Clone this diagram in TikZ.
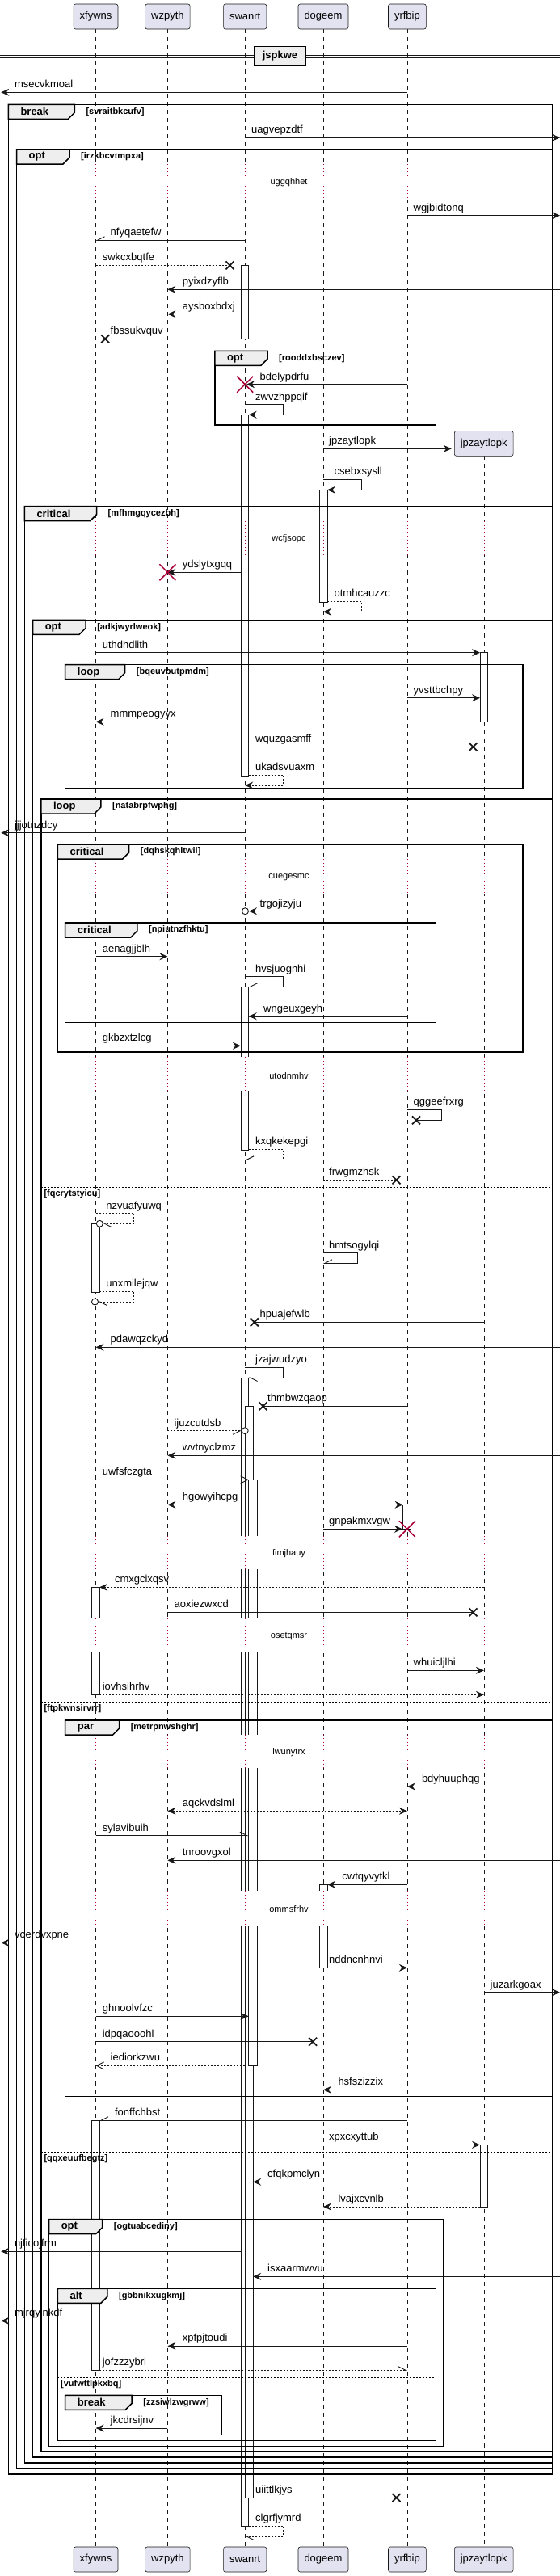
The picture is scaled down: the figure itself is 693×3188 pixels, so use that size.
\documentclass[tikz,border=0pt]{standalone}
\usepackage{fontspec}
\setmainfont{Liberation Sans}
\usetikzlibrary{arrows.meta}
\definecolor{ink}{HTML}{181818}
\definecolor{boxfill}{HTML}{E2E2F0}
\definecolor{killred}{HTML}{A80036}
\definecolor{tabfill}{HTML}{EEEEEE}

\tikzset{
  lifeline/.style={ink, line width=0.5pt, dash pattern=on 5pt off 5pt},
  part/.style={draw=ink, fill=boxfill, rounded corners=2.5pt, line width=0.6pt,
    minimum height=31pt, inner xsep=7.5pt, font=\fontsize{13}{15}\selectfont},
  plain/.style={draw=ink, line width=0.9pt},
  msg/.style={plain, -{Stealth[length=10pt,width=9pt,inset=3.5pt]}},
  bi/.style={plain, {Stealth[length=10pt,width=9pt,inset=3.5pt]}-{Stealth[length=10pt,width=9pt,inset=3.5pt]}},
  hl/.style={plain, -{Straight Barb[harpoon,length=9pt,width=9pt]}},
  hr/.style={plain, -{Straight Barb[harpoon,swap,length=9pt,width=9pt]}},
  opn/.style={plain, -{Straight Barb[length=9pt,width=9pt]}},
  dsh/.style={dash pattern=on 2pt off 2pt},
  lbl/.style={font=\fontsize{13}{15}\selectfont, anchor=base west, inner sep=0pt, yshift=5.5pt},
  actbar/.style={fill=white, draw=ink, line width=0.8pt},
  dly/.style={killred, line width=0.8pt, dash pattern=on 1pt off 3.5pt},
  dtext/.style={font=\fontsize{11}{13}\selectfont, inner sep=0pt},
  frm/.style={draw=black, line width=1.5pt},
  tab/.style={fill=tabfill, draw=black, line width=1.5pt},
  kw/.style={font=\bfseries\fontsize{13}{15}\selectfont, anchor=west, inner sep=0pt},
  grd/.style={font=\bfseries\fontsize{11}{13}\selectfont, anchor=west, inner sep=0pt},
  sep/.style={black, line width=0.8pt, dash pattern=on 2pt off 2pt},
  divbox/.style={draw=black, line width=1.5pt, fill=tabfill, font=\bfseries\fontsize{13}{15}\selectfont,
    minimum width=63pt, minimum height=24pt, inner sep=0pt},
  xmk/.style={ink, line width=1.8pt},
  bigxmk/.style={killred, line width=1.5pt}
}

% message: style, from x, to x, y, label x, text
\newcommand\msgline[6]{\draw[#1] (#2,#4) -- (#3,#4); \node[lbl] (m-#6) at (#5,#4) {#6};}
% self message: style, x, turn x, y1, y2, end x, label x, text
\newcommand\selfmsg[8]{\draw[#1] (#2,#4) -- (#3,#4) -- (#3,#5) -- (#6,#5); \node[lbl] (m-#8) at (#7,#4) {#8};}
\newcommand\killx[2]{\draw[xmk] (#1-5,#2-5) -- (#1+5,#2+5) (#1-5,#2+5) -- (#1+5,#2-5);}
\newcommand\killbig[2]{\draw[bigxmk] (#1-10,#2-10) -- (#1+10,#2+10) (#1-10,#2+10) -- (#1+10,#2-10);}
\newcommand\ringend[2]{\draw[ink, line width=0.9pt, fill=white] (#1,#2) circle (4pt);}
\newcommand\actbox[4]{\filldraw[actbar] (#1,#3) rectangle (#2,#4);}
\newcommand\gapbar[4]{\fill[white] (#1-1,#3) rectangle (#2+1,#4);}
% delay: y1, y2, text y, text, lifelines
\newcommand\delaynote[5]{%
  \foreach \lx in {#5} {\draw[white, line width=3pt] (\lx,#1) -- (\lx,#2); \draw[dly] (\lx,#1) -- (\lx,#2);}
  \node[dtext] (d-#4) at (357.5,#3) {#4};}
% group: x0, y0, x1, y1, tab right, keyword, guard
\newcommand\grpframe[7]{%
  \draw[frm] (#1,#2) rectangle (#3,#4);
  \filldraw[tab] (#1,#2) -- (#5,#2) -- (#5,#2+10) -- (#5-8,#2+18) -- (#1,#2+18) -- cycle;
  \node[kw] (k-#7) at (#1+15,#2+9) {#6};
  \node[grd] (g-#7) at (#5+14,#2+9) {[#7]};}
\newcommand\elseline[4]{\draw[sep] (#1,#3) -- (#2,#3); \node[grd] (g-#4) at (#1+3.5,#3+8.5) {[#4]};}

\begin{document}
\begin{tikzpicture}[x=1pt,y=-1pt]
\useasboundingbox (0,0) rectangle (693,3188);

% lifelines
\foreach \lx in {118.6,207.4,303.2,400,503.9}
  \draw[lifeline] (\lx,36) -- (\lx,3151.7);
\draw[lifeline] (598.9,564.3) -- (598.9,3151.7);

% activations
\actbox{297.9}{307.7}{328.3}{419.3}
\actbox{297.9}{307.7}{513.3}{960}
\actbox{297.9}{307.7}{1221.3}{1423.3}
\actbox{297.9}{307.7}{1705}{3126}
\actbox{303.2}{313.1}{1740.3}{3091}
\actbox{307.7}{318.4}{1831.3}{2556.3}
\actbox{395.1}{405}{606.3}{745}
\actbox{395.1}{405}{2332.3}{2435}
\actbox{594}{603.8}{807.7}{893.3}
\actbox{594}{603.8}{2654.3}{2731}
\actbox{113.7}{123.1}{1514.3}{1599.3}
\actbox{113.7}{123.1}{1964.3}{2097.3}
\actbox{113.7}{123.1}{2624.3}{2933.3}
\actbox{498.6}{508.8}{1862.3}{1892.3}

\gapbar{297.9}{307.7}{1308.3}{1350}
\gapbar{297.9}{318.4}{1900.7}{1942.3}
\gapbar{297.9}{318.4}{2003.3}{2045}
\gapbar{113.7}{123.1}{2003.3}{2045}
\gapbar{297.9}{318.4}{2146.7}{2188.3}
\gapbar{297.9}{318.4}{2340}{2383.3}
\gapbar{395.1}{405}{2340}{2383.3}

% delays
\delaynote{203.3}{246.7}{225.7}{uggqhhet}{118.6,207.4,303.2,400,503.9}
\delaynote{645}{686}{666.7}{wcfjsopc}{118.6,207.4,303.2,400,503.9,598.9}
\delaynote{1063.3}{1107}{1085.3}{cuegesmc}{118.6,207.4,303.2,400,503.9,598.9}
\delaynote{1308.3}{1350}{1331.7}{utodnmhv}{118.6,207.4,303.2,400,503.9,598.9}
\delaynote{1900.7}{1942.3}{1922.7}{fimjhauy}{118.6,207.4,303.2,400,503.9,598.9}
\delaynote{2003.3}{2045}{2025.3}{osetqmsr}{118.6,207.4,303.2,400,503.9,598.9}
\delaynote{2146.7}{2188.3}{2168.7}{lwunytrx}{118.6,207.4,303.2,400,503.9,598.9}
\delaynote{2340}{2383.3}{2362.3}{ommsfrhv}{118.6,207.4,303.2,400,503.9,598.9}

% divider
\draw[ink, line width=1pt] (0,68.3) -- (693,68.3) (0,71.3) -- (693,71.3);
\node[divbox] (jspkwe) at (346.5,69.5) {jspkwe};

% groups
\grpframe{10.3}{129.3}{683.6}{3062}{92.3}{break}{svraitbkcufv}
\grpframe{20.5}{185}{683.6}{3055}{86}{opt}{irzkbcvtmpxa}
\grpframe{265.8}{434.3}{539.6}{526}{331}{opt}{rooddxbsczev}
\grpframe{30.3}{626.7}{683.6}{3048}{119.5}{critical}{mfhmgqycezbh}
\grpframe{40.6}{767.3}{683.6}{3041}{106.1}{opt}{adkjwyrlweok}
\grpframe{80.7}{822.7}{647.1}{975.7}{154.7}{loop}{bqeuvbutpmdm}
\grpframe{50.8}{989}{683.6}{3034}{124.9}{loop}{natabrpfwphg}
\grpframe{71.4}{1045}{647.1}{1302}{159.7}{critical}{dqhskqhltwil}
\grpframe{80.7}{1142}{539.6}{1265.3}{169.9}{critical}{npiutnzfhktu}
\elseline{50.8}{683.6}{1469.3}{fqcrytstyicu}
\elseline{50.8}{683.6}{2106}{ftpkwnsirvrr}
\grpframe{80.7}{2129}{683.6}{2594.3}{147.6}{par}{metrpnwshghr}
\elseline{50.8}{683.6}{2663.3}{qqxeuufbegtz}
\grpframe{60.6}{2746.7}{548.5}{3027.3}{126.7}{opt}{ogtuabcediny}
\grpframe{71.4}{2832.3}{539.6}{3020.7}{132.9}{alt}{gbbnikxugkmj}
\elseline{71.4}{539.6}{2942.3}{vufwttlpkxbq}
\grpframe{80.7}{2964.3}{274.7}{3013.3}{163.2}{break}{zzsiwlzwgrww}

% messages
\msgline{msg}{503.9}{1.3}{114.3}{17.8}{msecvkmoal}
\msgline{msg}{303.2}{693}{170.3}{311}{uagvepzdtf}
\msgline{msg}{503.9}{693}{266.7}{511.5}{wgjbidtonq}
\msgline{hr}{303.2}{118.6}{297.3}{136.5}{nfyqaetefw}
\msgline{plain,dsh}{118.6}{284.5}{328.3}{126.6}{swkcxbqtfe} \killx{284.5}{328.3}
\msgline{msg}{693}{207.4}{358.3}{225.6}{pyixdzyflb}
\msgline{msg}{297.9}{207.4}{388.7}{225.6}{aysboxbdxj}
\msgline{plain,dsh}{297.9}{130.2}{419.3}{136.5}{fbssukvquv} \killx{130.2}{419.3}
\msgline{msg}{503.9}{305}{475.7}{321.5}{bdelypdrfu} \killbig{303.2}{475.7}
\selfmsg{msg}{303.2}{350.5}{500.7}{513.3}{307.7}{316}{zwvzhppqif}
\msgline{msg}{400}{558.8}{555.3}{407}{jpzaytlopk}
\selfmsg{msg}{400}{447.3}{593.3}{606.3}{405}{413.4}{csebxsysll}
\msgline{msg}{297.9}{207.4}{708.3}{225.6}{ydslytxgqq} \killbig{207.4}{708.3}
\selfmsg{msg,dsh}{405}{447.3}{744.3}{757.3}{400}{413.4}{otmhcauzzc}
\msgline{msg}{118.6}{594}{807.7}{126.6}{uthdhdlith}
\msgline{msg}{503.9}{594}{863.7}{511.5}{yvsttbchpy}
\msgline{msg,dsh}{594}{118.6}{893.3}{136.5}{mmmpeogyyx}
\msgline{plain}{307.7}{585.5}{924.3}{316}{wquzgasmff} \killx{585.5}{924.3}
\selfmsg{msg,dsh}{307.7}{350.5}{959}{972}{303.2}{316}{ukadsvuaxm}
\msgline{msg}{303.2}{1.3}{1030.7}{17.8}{jjjotnzdcy}
\msgline{msg}{598.9}{308}{1127.7}{321.5}{trgojizyju} \ringend{303.5}{1127.7}
\msgline{msg}{118.6}{207.4}{1183.7}{126.6}{aenagjjblh}
\selfmsg{hr}{303.2}{350.5}{1208.7}{1221.3}{307.7}{316}{hvsjuognhi}
\msgline{msg}{503.9}{307.7}{1257.7}{326}{wngeuxgeyh}
\msgline{msg}{118.6}{297.9}{1294.3}{126.6}{gkbzxtzlcg}
\selfmsg{plain}{503.9}{546.3}{1373.3}{1386.3}{515}{511.5}{qggeefrxrg} \killx{515}{1386.3}
\selfmsg{hr,dsh}{307.7}{350.5}{1422.3}{1435.3}{303.2}{316}{kxqkekepgi}
\msgline{plain,dsh}{400}{490.5}{1460.3}{407}{frwgmzhsk} \killx{490.5}{1460.3}
\selfmsg{hl,dsh}{118.6}{165.9}{1501.7}{1514.3}{127.5}{131.1}{nzvuafyuwq} \ringend{123.3}{1514.3}
\selfmsg{hr}{400}{442}{1550.7}{1563.3}{400}{407}{hmtsogylqi}
\selfmsg{hl,dsh}{123.1}{165.9}{1598}{1611}{121.5}{131.1}{unxmilejqw} \ringend{117.5}{1611}
\msgline{plain}{598.9}{314.8}{1636.3}{321.5}{hpuajefwlb} \killx{314.8}{1636.3}
\msgline{msg}{693}{118.6}{1667.3}{136.5}{pdawqzckyd}
\selfmsg{hl}{303.2}{350.5}{1692.3}{1705}{307.7}{316}{jzajwudzyo}
\msgline{plain}{503.9}{325.5}{1740.3}{331}{thmbwzqaop} \killx{325.5}{1740.3}
\msgline{hr,dsh}{207.4}{299}{1770.7}{215.4}{ijuzcutdsb} \ringend{303.2}{1770.7}
\msgline{msg}{693}{207.4}{1801.3}{225.6}{wvtnyclzmz}
\msgline{opn}{118.6}{307.7}{1831.3}{126.6}{uwfsfczgta}
\msgline{bi}{207.4}{498.6}{1862.3}{225.6}{hgowyihcpg}
\msgline{msg}{400}{498}{1892.3}{407}{gnpakmxvgw} \killbig{503.9}{1892.3}
\msgline{msg,dsh}{598.9}{123.1}{1964.3}{141.8}{cmxgcixqsv}
\msgline{plain}{207.4}{585.5}{1995.3}{215.4}{aoxiezwxcd} \killx{585.5}{1995.3}
\msgline{msg}{503.9}{598.9}{2067.3}{511.5}{whuicljlhi}
\msgline{msg,dsh}{123.1}{598.9}{2097.3}{126.6}{iovhsihrhv}
\msgline{msg}{598.9}{503.9}{2211}{521.8}{bdyhuuphqg}
\msgline{bi,dsh}{207.4}{503.9}{2241.3}{225.6}{aqckvdslml}
\msgline{hl}{118.6}{307.7}{2271.7}{126.6}{sylavibuih}
\msgline{msg}{693}{207.4}{2302.3}{225.6}{tnroovgxol}
\msgline{msg}{503.9}{405}{2332.3}{423.2}{cwtqyvytkl}
\msgline{msg}{395.1}{1.3}{2404.3}{17.8}{voerdvxpne}
\msgline{msg,dsh}{405}{503.9}{2435.3}{407}{nddncnhnvi}
\msgline{msg}{598.9}{693}{2465.7}{606.5}{juzarkgoax}
\msgline{msg}{118.6}{307.7}{2495.3}{126.6}{ghnoolvfzc}
\msgline{plain}{118.6}{387.1}{2526.7}{126.6}{idpqaooohl} \killx{387.1}{2526.7}
\msgline{opn,dsh}{303.2}{118.6}{2556.3}{136.5}{iediorkzwu}
\msgline{msg}{693}{400}{2586.3}{418.3}{hsfszizzix}
\msgline{hr}{503.9}{123.1}{2624.3}{141.8}{fonffchbst}
\msgline{msg}{400}{594}{2654.3}{407}{xpxcxyttub}
\msgline{msg}{503.9}{313.1}{2700.3}{331}{cfqkpmclyn}
\msgline{msg,dsh}{594}{400}{2731}{418.3}{lvajxcvnlb}
\msgline{msg}{297.9}{1.3}{2786.3}{17.8}{njficojfrm}
\msgline{msg}{693}{313.1}{2817.3}{331}{isxaarmwvu}
\msgline{msg}{400}{1.3}{2872.3}{17.8}{mjrqylnkdf}
\msgline{msg}{503.9}{207.4}{2903.3}{225.6}{xpfpjtoudi}
\msgline{hl,dsh}{123.1}{503.9}{2933.3}{126.6}{jofzzzybrl}
\msgline{msg}{207.4}{118.6}{3005}{136.5}{jkcdrsijnv}
\msgline{plain,dsh}{313.1}{490.5}{3091}{316}{uiittlkjys} \killx{490.5}{3091}
\selfmsg{hl,dsh}{307.7}{350.5}{3126}{3139}{303.2}{316}{clgrfjymrd}

% participants
\foreach \n/\lx in {xfywns/118.6, wzpyth/207.4, swanrt/303.2, dogeem/400, yrfbip/503.9} {
  \node[part] (\n) at (\lx,20.5) {\n};
  \node[part] (\n-b) at (\lx,3167.5) {\n};
}
\node[part] (jpzaytlopk) at (598.7,548.8) {jpzaytlopk};
\node[part] (jpzaytlopk-b) at (598.7,3167.5) {jpzaytlopk};
\end{tikzpicture}
\end{document}
